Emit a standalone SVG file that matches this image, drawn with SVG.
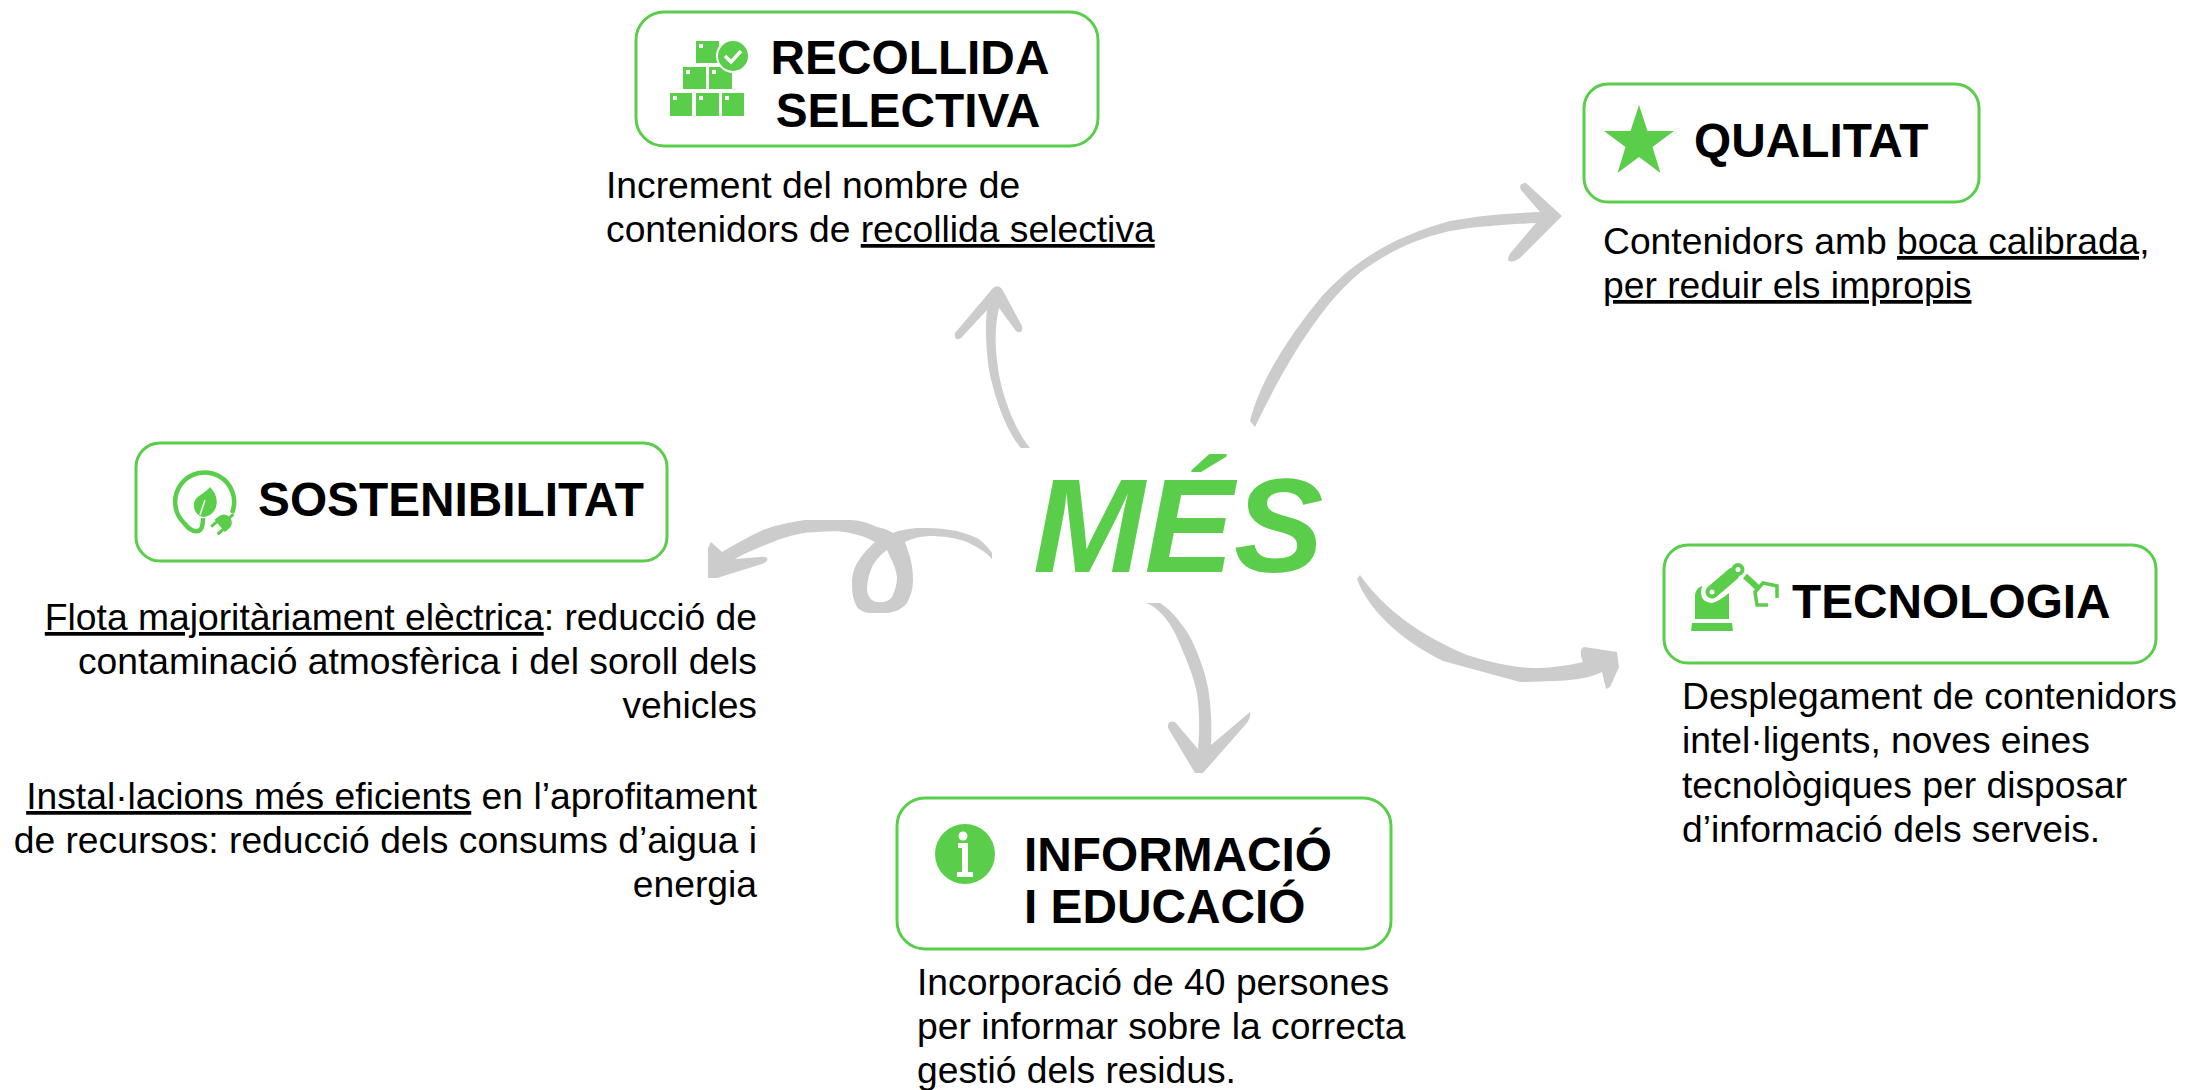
<svg xmlns="http://www.w3.org/2000/svg" width="2185" height="1090" viewBox="0 0 2185 1090">
<style>
text{font-family:"Liberation Sans",Arial,sans-serif;fill:#000}
.b{font-size:37.25px}
.h{font-size:47.8px;font-weight:700}
.r{text-anchor:end}
.u{text-decoration:underline;text-decoration-thickness:3px}
.box{fill:#fff;stroke:#5ACE4A;stroke-width:3}
.g{fill:#5ACE4A}
.w{fill:#fff}
.ar{fill:#CCCCCC}
</style>
<rect width="2185" height="1090" fill="#fff"/>
<g id="connectors">
<path class="ar" d="M1021 448C1007 432 995 400 989 370C986 350 985 325 987 310L961 338Q954 342 955 333L993 288Q998 284 1002 289L1022 326Q1023 335 1016 331L999 308C994 330 995 350 999 375C1005 405 1017 432 1030 448Z"/>
<path class="ar" d="M1250 421C1260 380 1290 335 1322 296C1360 255 1400 235 1450 221C1480 215 1515 213 1540 212L1521 190Q1518 183 1526 183L1562 216L1520 258Q1511 264 1508 260Q1508 255 1513 250L1536 223C1500 225 1480 226 1450 231C1410 240 1385 255 1362 271C1320 305 1285 365 1255 427Z"/>
<path class="ar" d="M1357 579L1360 575C1385 610 1420 635 1467 655C1490 662 1515 668 1533 668C1550 668 1565 666 1583 662Q1578 650 1584 647L1617 652L1619 667L1610 687L1606 689L1602 672C1585 680 1570 681 1520 682L1443 661C1410 645 1370 615 1357 579Z"/>
<path class="ar" d="M1146 603C1155 606 1162 614 1166 619C1176 632 1180 645 1184 654C1190 668 1195 682 1197 694C1199 705 1200 730 1198 749L1175 722Q1167 720 1168 728L1195 773H1203L1246 724Q1251 718 1250 712L1211 745C1212 725 1211 710 1209 694C1206 675 1202 665 1197 652C1192 640 1188 632 1182 625C1175 615 1168 608 1160 603Z"/>
<path class="ar" fill-rule="evenodd" d="M711 542L708 548V578H717L762 564Q769 561 767 558Q765 556 760 557L735 559C745 553 760 547 773 542C790 535 805 532 817 532C830 531 842 531 850 533C860 535 868 538 875 542C868 548 862 555 857 563C853 571 852 577 852 583C852 592 853 600 857 607C861 612 867 613 873 613H887C896 612 902 609 907 603C911 596 913 588 913 580C913 572 912 565 910 557L905 542C913 538 921 536 930 536C943 536 956 538 967 542C977 547 986 552 992 559V553C987 546 983 542 977 538C968 534 959 531 950 530C939 528 928 528 917 528C908 529 900 530 893 533C888 530 883 528 877 527C868 523 860 520 850 520H805C790 522 776 525 763 530C748 537 735 544 722 552ZM887 550C880 555 876 560 872 567C869 574 867 582 867 590C868 597 872 602 877 602C884 603 889 601 892 597C895 591 897 584 897 577C896 569 893 562 890 557Z"/>
</g>
<g id="center"><text x="1033" y="572" style="font-size:134px;font-weight:700;font-style:italic;fill:#5ACE4A">MÉS</text></g>
<g id="recollida">
<rect class="box" x="636" y="12" width="462" height="134" rx="28"/>
<g class="g">
<rect x="670" y="93" width="22" height="23"/><rect x="696" y="93" width="23" height="23"/><rect x="722" y="93" width="22" height="23"/>
<rect x="683" y="67" width="23" height="22"/><rect x="709" y="67" width="23" height="22"/>
<rect x="696" y="41" width="23" height="22"/>
</g>
<g class="w"><rect x="673" y="96" width="4" height="4"/><rect x="699" y="96" width="4" height="4"/><rect x="725" y="96" width="4" height="4"/><rect x="686" y="70" width="4" height="4"/><rect x="712" y="70" width="4" height="4"/><rect x="699" y="44" width="4" height="4"/></g>
<circle cx="733" cy="56" r="17" fill="#fff"/><circle class="g" cx="733" cy="56" r="15"/>
<path d="M725 56L731 62L741 51" fill="none" stroke="#fff" stroke-width="3.500"/>
<text class="h" x="910" y="74" text-anchor="middle">RECOLLIDA</text>
<text class="h" x="908" y="127" text-anchor="middle">SELECTIVA</text>
<text class="b" x="606" y="198">Increment del nombre de</text>
<text class="b" x="606" y="242">contenidors de <tspan class="u">recollida selectiva</tspan></text>
</g>
<g id="qualitat">
<rect class="box" x="1584" y="84" width="395" height="118" rx="24"/>
<polygon class="g" points="1639,105 1647.500,131 1674,131 1652.500,147 1660.500,173 1639,157 1617.500,173 1625.500,147 1604,131 1630.500,131"/>
<text class="h" x="1694" y="157">QUALITAT</text>
<text class="b" x="1603" y="254">Contenidors amb <tspan class="u">boca calibrada,</tspan></text>
<text class="b" x="1603" y="298"><tspan class="u">per reduir els impropis</tspan></text>
</g>
<g id="sostenibilitat">
<rect class="box" x="136" y="443" width="531" height="118" rx="24"/>
<path d="M232 513A29.500 29.500 0 1 0 184 523Q192 533 198 531Q203 530 203 518" fill="none" stroke="#5ACE4A" stroke-width="4.500"/>
<path class="g" d="M210 487C216 493 218 500 216 507C214 513 209 517 203 517C197 516 193 510 194 503C196 495 205 494 210 487Z"/>
<path d="M205 500L200 515" stroke="#fff" stroke-width="1.500"/>
<g transform="translate(222 524) rotate(-40)">
<path class="g" d="M-3 -8H3Q9 -7 10 -2V2Q9 7 3 8H-3ZM-10 -6.500H-3V-3.500H-10ZM-10 3.500H-3V6.500H-10ZM9 -1.500H15V1.500H9Z"/>
</g>
<text class="h" x="258" y="516">SOSTENIBILITAT</text>
<text class="b r" x="757" y="630"><tspan class="u">Flota majoritàriament elèctrica</tspan>: reducció de</text>
<text class="b r" x="757" y="674">contaminació atmosfèrica i del soroll dels</text>
<text class="b r" x="757" y="718">vehicles</text>
<text class="b r" x="757" y="809"><tspan class="u">Instal·lacions més eficients</tspan> en l’aprofitament</text>
<text class="b r" x="757" y="853">de recursos: reducció dels consums d’aigua i</text>
<text class="b r" x="757" y="897">energia</text>
</g>
<g id="tecnologia">
<rect class="box" x="1664" y="545" width="492" height="118" rx="24"/>
<path class="g" d="M1691 631L1692 623H1732L1733 631Z"/>
<path class="g" d="M1695 619V595Q1696 588 1702 586Q1698 602 1712 603Q1718 602 1729 593V619Z"/>
<path d="M1712 592L1733 574" stroke="#5ACE4A" stroke-width="13" stroke-linecap="round"/>
<circle cx="1712" cy="592" r="2.500" class="w"/>
<circle cx="1738" cy="569.500" r="6.500" class="g"/><circle cx="1738" cy="569.500" r="2.500" class="w"/>
<path d="M1745 576L1759 589" stroke="#5ACE4A" stroke-width="6"/>
<path d="M1777 598V586L1763 583L1755 592L1757 605H1768" fill="none" stroke="#5ACE4A" stroke-width="3.500"/>
<text class="h" x="1792" y="618">TECNOLOGIA</text>
<text class="b" x="1682" y="709">Desplegament de contenidors</text>
<text class="b" x="1682" y="753">intel·ligents, noves eines</text>
<text class="b" x="1682" y="798">tecnològiques per disposar</text>
<text class="b" x="1682" y="842">d’informació dels serveis.</text>
</g>
<g id="informacio">
<rect class="box" x="897" y="798" width="494" height="151" rx="28"/>
<circle class="g" cx="965" cy="854" r="30"/>
<circle class="w" cx="963" cy="836" r="4.500"/>
<path class="w" d="M958 843H968V872H973V877H957V872H962V848H958Z"/>
<text class="h" x="1024" y="871">INFORMACIÓ</text>
<text class="h" x="1024" y="923">I EDUCACIÓ</text>
<text class="b" x="917" y="995">Incorporació de 40 persones</text>
<text class="b" x="917" y="1039">per informar sobre la correcta</text>
<text class="b" x="917" y="1083">gestió dels residus.</text>
</g>
</svg>
